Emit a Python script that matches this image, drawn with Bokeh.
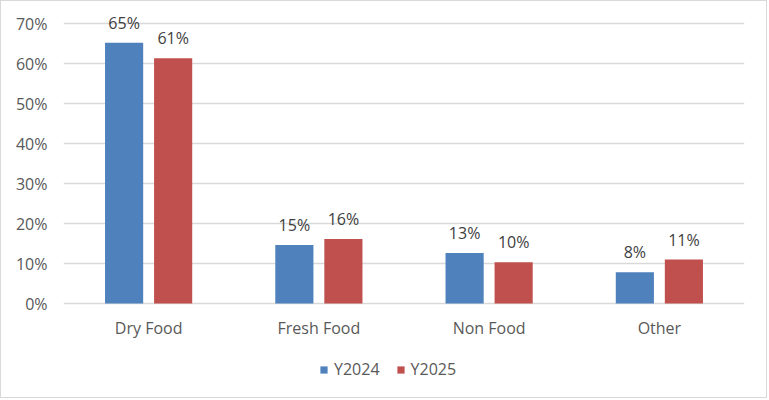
from bokeh.plotting import figure
from bokeh.models import (ColumnDataSource, FactorRange, Range1d, FixedTicker,
                          NumeralTickFormatter, Legend, LegendItem)
from bokeh.transform import dodge
from bokeh.core.properties import value
from bokeh.embed import file_html
from bokeh.resources import INLINE

categories = ["Dry Food", "Fresh Food", "Non Food", "Other"]
y2024 = [0.652, 0.146, 0.126, 0.078]
y2025 = [0.613, 0.161, 0.103, 0.110]
series_names = ["Y2024", "Y2025"]
series_colors = ["#4F81BD", "#C0504D"]
y_ticks = [0.0, 0.1, 0.2, 0.3, 0.4, 0.5, 0.6, 0.7]

FONT = "Open Sans"
GREY = "#595959"

src = ColumnDataSource(dict(
    cat=categories,
    a=y2024,
    b=y2025,
    la=[f"{round(v * 100)}%" for v in y2024],
    lb=[f"{round(v * 100)}%" for v in y2025],
    zero=[0.0] * len(categories),
))

# frame spans (nearly) the whole chart so the data labels, category labels
# and legend live inside it (0% sits at 303px, 70% at 23px)
p = figure(x_range=FactorRange(*categories, range_padding=0),
           y_range=Range1d(-0.22, 0.735),
           width=767, height=398,
           output_backend="svg", toolbar_location=None,
           min_border_left=62, min_border_right=24,
           min_border_top=8, min_border_bottom=8)
p.styles = {"border": "1px solid #d9d9d9"}
p.outline_line_color = None
p.background_fill_color = "white"
p.border_fill_color = "white"

off = 0.144
bw = 0.224
r1 = p.vbar(x=dodge("cat", -off, range=p.x_range), top="a", width=bw,
            source=src, fill_color=series_colors[0], line_color=None)
r2 = p.vbar(x=dodge("cat", off, range=p.x_range), top="b", width=bw,
            source=src, fill_color=series_colors[1], line_color=None)

for xo, col in ((-off, "a"), (off, "b")):
    p.text(x=dodge("cat", xo, range=p.x_range), y=col,
           text="l" + col, source=src, y_offset=-20,
           text_align="center", text_baseline="alphabetic",
           text_font=value(FONT), text_font_size="16px",
           text_color="#404040")

# category labels under the 0% line
p.text(x="cat", y="zero", text="cat", source=src, y_offset=24,
       text_align="center", text_baseline="middle",
       text_font=value(FONT), text_font_size="16px", text_color=GREY)

p.xaxis.visible = False

p.yaxis.ticker = FixedTicker(ticks=y_ticks)
p.yaxis.formatter = NumeralTickFormatter(format="0%")
p.yaxis.axis_line_color = None
p.yaxis.major_tick_line_color = None
p.yaxis.minor_tick_line_color = None
p.yaxis.major_tick_out = 0
p.yaxis.major_label_standoff = 16
p.yaxis.major_label_text_font = FONT
p.yaxis.major_label_text_font_size = "16px"
p.yaxis.major_label_text_color = GREY

p.xgrid.grid_line_color = None
p.ygrid.ticker = FixedTicker(ticks=y_ticks)
p.ygrid.grid_line_color = "#d9d9d9"
p.ygrid.grid_line_width = 1.3

legend = Legend(items=[LegendItem(label=series_names[0], renderers=[r1]),
                       LegendItem(label=series_names[1], renderers=[r2])],
                orientation="horizontal", location=(256, 11),
                padding=0, margin=0, spacing=16,
                glyph_width=9, glyph_height=9, label_standoff=6,
                label_text_font=FONT, label_text_font_size="16px",
                label_text_color=GREY,
                background_fill_alpha=0, border_line_color=None)
p.add_layout(legend, "center")

open("out.html", "w").write(file_html(p, INLINE))
